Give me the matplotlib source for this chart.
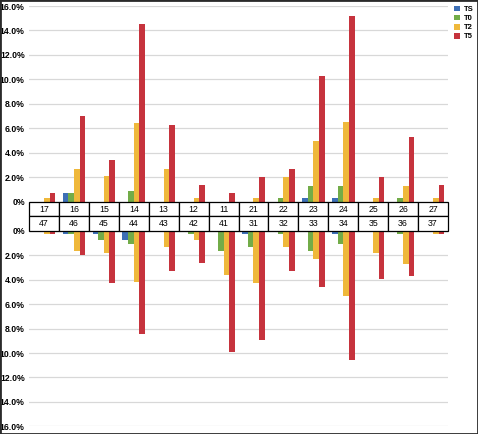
import numpy as np
import matplotlib
matplotlib.use('Agg')
import matplotlib.pyplot as plt
from matplotlib.ticker import FuncFormatter
from matplotlib.patches import Rectangle

upper_teeth = ['17', '16', '15', '14', '13', '12', '11', '21', '22', '23', '24', '25', '26', '27']
lower_teeth = ['47', '46', '45', '44', '43', '42', '41', '31', '32', '33', '34', '35', '36', '37']
series = ['TS', 'T0', 'T2', 'T5']
colors = ['#3d6fb6', '#72ac48', '#efb83b', '#c6333d']

# upper jaw, percent
ts_up = [0, 0.7, 0, 0, 0, 0, 0, 0, 0, 0.28, 0.28, 0, 0, 0]
t0_up = [0, 0.7, 0, 0.9, 0, 0, 0, 0, 0.28, 1.3, 1.3, 0, 0.28, 0]
t2_up = [0.28, 2.7, 2.1, 6.4, 2.7, 0.28, 0, 0.28, 2.0, 5.0, 6.5, 0.28, 1.3, 0.28]
t5_up = [0.7, 7.0, 3.4, 14.5, 6.3, 1.4, 0.7, 2.0, 2.7, 10.3, 15.2, 2.0, 5.3, 1.4]

# lower jaw, percent
ts_lo = [0, 0.28, 0.28, 0.7, 0, 0, 0, 0.28, 0, 0, 0.28, 0, 0, 0]
t0_lo = [0, 0.28, 0.7, 1.1, 0, 0.28, 1.65, 1.3, 0.28, 1.65, 1.1, 0, 0.28, 0]
t2_lo = [0.28, 1.65, 1.8, 4.2, 1.3, 0.7, 3.6, 4.3, 1.3, 2.3, 5.3, 1.8, 2.7, 0.28]
t5_lo = [0.28, 2.0, 4.3, 8.4, 3.3, 2.6, 9.9, 8.9, 3.3, 4.6, 10.6, 3.9, 3.7, 0.28]

up = [ts_up, t0_up, t2_up, t5_up]
lo = [ts_lo, t0_lo, t2_lo, t5_lo]

W, H = 478, 434
fig = plt.figure(figsize=(W / 100, H / 100), dpi=100)
font = 'Liberation Sans'

def fmt(v, pos):
    return '0%' if abs(v) < 1e-9 else '{:.1f}%'.format(v)

left, right = 29, 448
ax_top = fig.add_axes([left / W, 1 - 201.7 / H, (right - left) / W, 195.7 / H])
ax_bot = fig.add_axes([left / W, 1 - 426.3 / H, (right - left) / W, 195.3 / H])
ax_tab = fig.add_axes([left / W, 1 - 231 / H, (right - left) / W, 29.3 / H])

x = np.arange(len(upper_teeth))
bw = 0.188
for ax, data in [(ax_top, up), (ax_bot, lo)]:
    for i, (vals, c, name) in enumerate(zip(data, colors, series)):
        ax.bar(x + (i - 1.5) * bw, vals, width=bw, color=c, linewidth=0, label=name, zorder=3)
    ax.set_xlim(-0.5, len(x) - 0.5)
    ax.set_ylim(0, 16)
    ax.set_yticks(np.arange(0, 17, 2))
    ax.yaxis.set_major_formatter(FuncFormatter(fmt))
    ax.set_xticks([])
    ax.grid(axis='y', color='#d8d8d8', linewidth=0.9, zorder=0)
    for s in ax.spines.values():
        s.set_visible(False)
    ax.tick_params(axis='y', length=0, pad=3)
    for lab in ax.get_yticklabels():
        lab.set_fontfamily(font)
        lab.set_fontweight('bold')
        lab.set_fontsize(6.2)
ax_bot.invert_yaxis()

ax_tab.axis('off')
tab = ax_tab.table(cellText=[upper_teeth, lower_teeth], cellLoc='center', bbox=[0, 0, 1, 1])
tab.auto_set_font_size(False)
for cell in tab.get_celld().values():
    cell.set_linewidth(0.9)
    cell.set_edgecolor('black')
    cell.get_text().set_fontsize(6.3)
    cell.get_text().set_fontfamily(font)

handles, labels = ax_top.get_legend_handles_labels()
fig.legend(handles, labels, loc='upper left', bbox_to_anchor=(452 / W, 1 - 4 / H),
           frameon=False, prop={'family': font, 'weight': 'bold', 'size': 5.5},
           handlelength=0.8, handleheight=0.8, handletextpad=0.6, labelspacing=0.2,
           borderpad=0.2, borderaxespad=0)

fig.patches.append(Rectangle((0, 0), 1, 1, transform=fig.transFigure, fill=False,
                             edgecolor='#2a2a2a', linewidth=2.0))

fig.savefig('out.png', dpi=100)
